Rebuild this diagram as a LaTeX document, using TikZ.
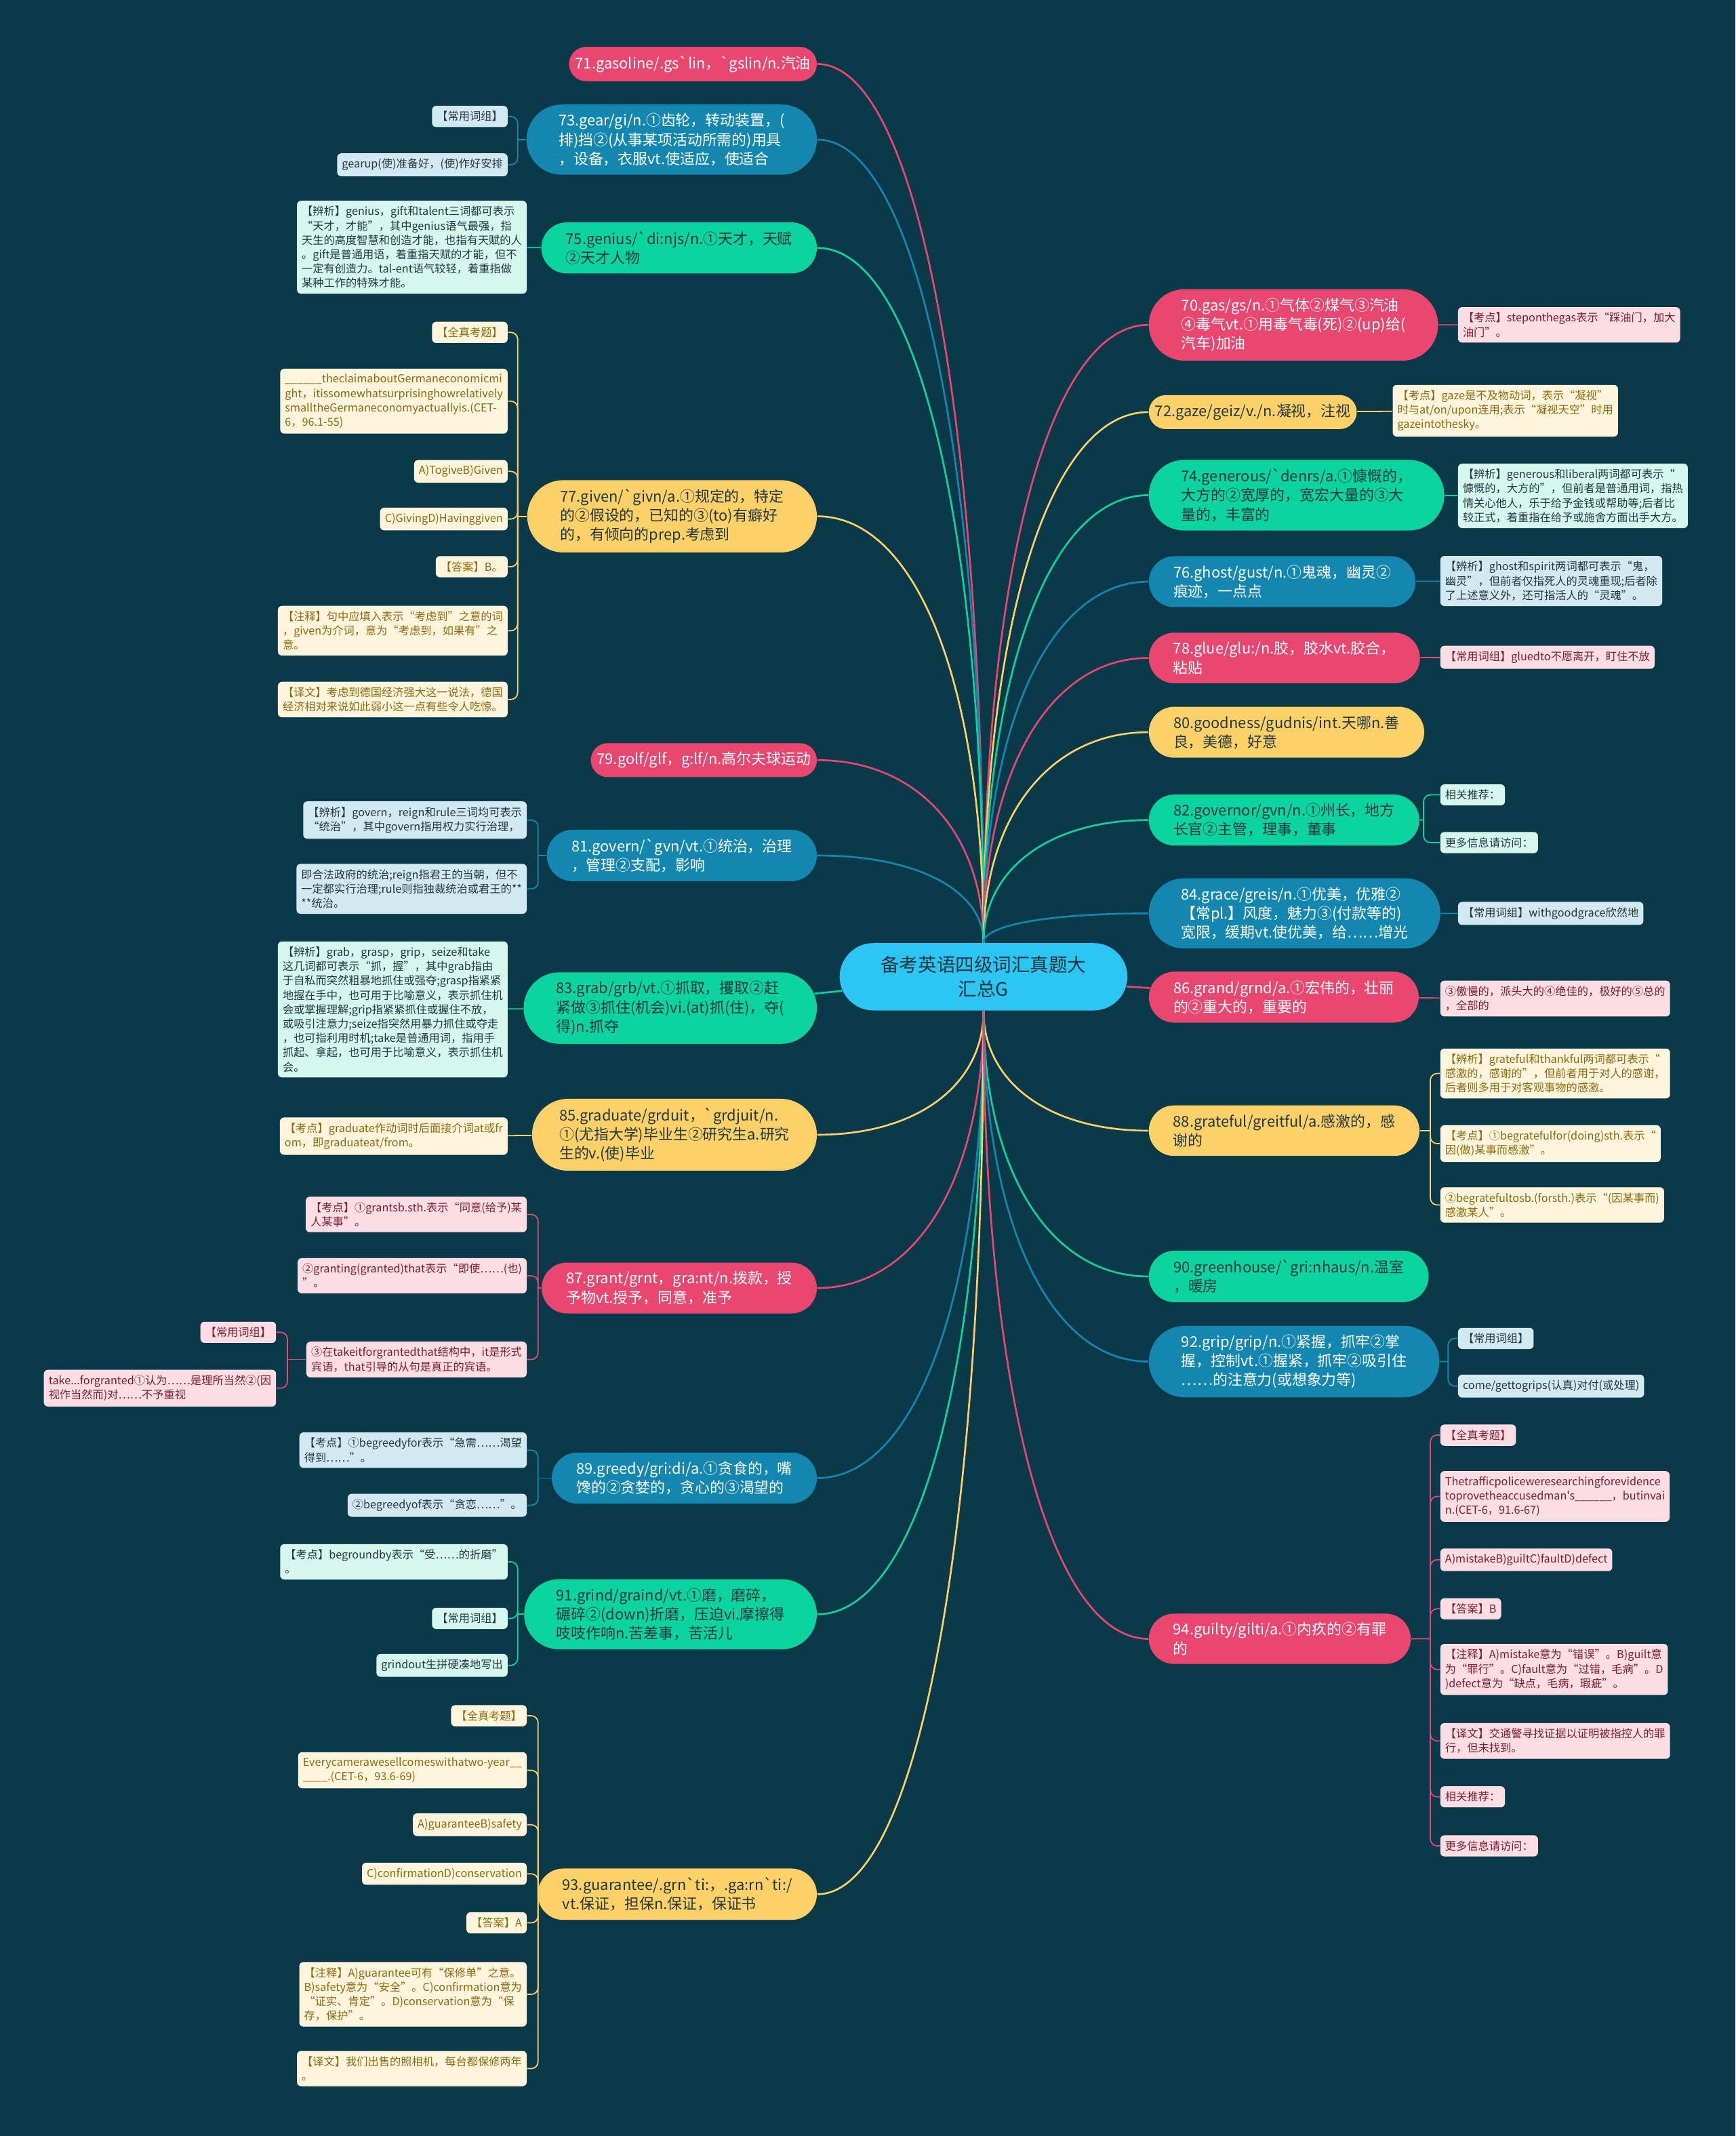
\documentclass[tikz,border=0pt]{standalone}
\usepackage{fontspec}
\setmainfont{Noto Sans CJK SC}[Ligatures=TeXOff]
\usetikzlibrary{shapes.misc,backgrounds,calc}

% colours of the map
\definecolor{bgc}{HTML}{0A3A4A}
\definecolor{ctrc}{HTML}{2CC5F4}
\definecolor{pk}{HTML}{E94670}
\definecolor{yw}{HTML}{FDD167}
\definecolor{gn}{HTML}{0BD49E}
\definecolor{bl}{HTML}{1487B0}
\definecolor{pkl}{HTML}{FBDDE3}
\definecolor{ywl}{HTML}{FFF5DC}
\definecolor{gnl}{HTML}{D6F7EE}
\definecolor{bll}{HTML}{D3E9F1}
\definecolor{pkt}{HTML}{7A1F33}
\definecolor{ywt}{HTML}{8C6A10}
\definecolor{dkt}{HTML}{22383F}

\newcommand{\blank}{\_\_\_\_\_\_}

\tikzset{
  root/.style={rounded rectangle, fill=ctrc, text=dkt, align=center, inner xsep=0.5cm, inner ysep=0.19cm, font=\fontsize{7.8}{10.2}\selectfont},
  topic/.style={rounded rectangle, inner xsep=0.06cm, inner ysep=0.13cm, align=left, font=\fontsize{6.2}{8}\selectfont},
  two/.style={inner xsep=0.27cm},
  three/.style={inner xsep=0.3cm},
  pinktopic/.style={topic, fill=pk, text=white},
  yellowtopic/.style={topic, fill=yw, text=dkt},
  greentopic/.style={topic, fill=gn, text=dkt},
  bluetopic/.style={topic, fill=bl, text=white},
  leaf/.style={rectangle, rounded corners=0.06cm, inner xsep=0.07cm, inner ysep=0.08cm, align=left, font=\fontsize{4.6}{6}\selectfont},
  pinkleaf/.style={leaf, fill=pkl, text=pkt},
  yellowleaf/.style={leaf, fill=ywl, text=ywt},
  greenleaf/.style={leaf, fill=gnl, text=dkt},
  blueleaf/.style={leaf, fill=bll, text=dkt},
  link/.style={draw=#1, line width=0.75pt},
  twig/.style={draw=#1, line width=0.5pt, rounded corners=0.1cm},
  fan/.style={to path={.. controls ($(\tikztostart)!0.6!(\tikztostart |- \tikztotarget)$) and ($(\tikztotarget)!0.6!(\tikztotarget -| \tikztostart)$) .. (\tikztotarget)}},
}

\begin{document}
\begin{tikzpicture}[x=0.02cm,y=0.02cm]
\begin{scope}[on background layer]
\fill[bgc] (0,0) rectangle (1274,-1568);
\end{scope}
\useasboundingbox (0,0) rectangle (1274,-1568);

% centre
\node[root] (ctr) at (722,-717) {备考英语四级词汇真题大\\汇总G};

% topics on the left
\node[pinktopic, anchor=east] (b71) at (600,-47) {71.gasoline/.gs`lin，`gslin/n.汽油};
\node[bluetopic, three, anchor=east] (b73) at (600,-102.5) {73.gear/gi/n.①齿轮，转动装置，(\\排)挡②(从事某项活动所需的)用具\\，设备，衣服vt.使适应，使适合};
\node[greentopic, two, anchor=east] (b75) at (600,-182) {75.genius/`di:njs/n.①天才，天赋\\②天才人物};
\node[yellowtopic, three, anchor=east] (b77) at (600,-379) {77.given/`givn/a.①规定的，特定\\的②假设的，已知的③(to)有癖好\\的，有倾向的prep.考虑到};
\node[pinktopic, anchor=east] (b79) at (600,-558) {79.golf/glf，g:lf/n.高尔夫球运动};
\node[bluetopic, two, anchor=east] (b81) at (600,-628) {81.govern/`gvn/vt.①统治，治理\\，管理②支配，影响};
\node[greentopic, three, anchor=east] (b83) at (600,-740) {83.grab/grb/vt.①抓取，攫取②赶\\紧做③抓住(机会)vi.(at)抓(住)，夺(\\得)n.抓夺};
\node[yellowtopic, three, anchor=east, inner xsep=0.22cm] (b85) at (600,-833) {85.graduate/grduit，`grdjuit/n.\\①(尤指大学)毕业生②研究生a.研究\\生的v.(使)毕业};
\node[pinktopic, two, anchor=east] (b87) at (600,-945.5) {87.grant/grnt，gra:nt/n.拨款，授\\予物vt.授予，同意，准予};
\node[bluetopic, two, anchor=east] (b89) at (600,-1085) {89.greedy/gri:di/a.①贪食的，嘴\\馋的②贪婪的，贪心的③渴望的};
\node[greentopic, three, anchor=east] (b91) at (600,-1185) {91.grind/graind/vt.①磨，磨碎，\\碾碎②(down)折磨，压迫vi.摩擦得\\吱吱作响n.苦差事，苦活儿};
\node[yellowtopic, two, anchor=east] (b93) at (600,-1390.5) {93.guarantee/.grn`ti:，.ga:rn`ti:/\\vt.保证，担保n.保证，保证书};

% topics on the right
\node[pinktopic, three, anchor=west] (b70) at (843,-238.5) {70.gas/gs/n.①气体②煤气③汽油\\④毒气vt.①用毒气毒(死)②(up)给(\\汽车)加油};
\node[yellowtopic, anchor=west] (b72) at (843,-302.5) {72.gaze/geiz/v./n.凝视，注视};
\node[greentopic, three, anchor=west] (b74) at (843,-363.5) {74.generous/`denrs/a.①慷慨的，\\大方的②宽厚的，宽宏大量的③大\\量的，丰富的};
\node[bluetopic, two, anchor=west] (b76) at (843,-427) {76.ghost/gust/n.①鬼魂，幽灵②\\痕迹，一点点};
\node[pinktopic, two, anchor=west] (b78) at (843,-483) {78.glue/glu:/n.胶，胶水vt.胶合，\\粘贴};
\node[yellowtopic, two, anchor=west] (b80) at (843,-537.5) {80.goodness/gudnis/int.天哪n.善\\良，美德，好意};
\node[greentopic, two, anchor=west] (b82) at (843,-602) {82.governor/gvn/n.①州长，地方\\长官②主管，理事，董事};
\node[bluetopic, three, anchor=west] (b84) at (843,-670.5) {84.grace/greis/n.①优美，优雅②\\【常pl.】风度，魅力③(付款等的)\\宽限，缓期vt.使优美，给……增光};
\node[pinktopic, two, anchor=west] (b86) at (843,-732) {86.grand/grnd/a.①宏伟的，壮丽\\的②重大的，重要的};
\node[yellowtopic, two, anchor=west] (b88) at (843,-830) {88.grateful/greitful/a.感激的，感\\谢的};
\node[greentopic, two, anchor=west] (b90) at (843,-937) {90.greenhouse/`gri:nhaus/n.温室\\，暖房};
\node[bluetopic, three, anchor=west] (b92) at (843,-999.5) {92.grip/grip/n.①紧握，抓牢②掌\\握，控制vt.①握紧，抓牢②吸引住\\……的注意力(或想象力等)};
\node[pinktopic, two, anchor=west] (b94) at (843,-1203) {94.guilty/gilti/a.①内疚的②有罪\\的};

% leaves on the left
\node[blueleaf, anchor=east] (l73a) at (373,-85.5) {【常用词组】};
\node[blueleaf, anchor=east] (l73b) at (373,-121) {gearup(使)准备好，(使)作好安排};
\node[greenleaf, anchor=east] (l75) at (387,-181.5) {【辨析】genius，gift和talent三词都可表示\\“天才，才能”，其中genius语气最强，指\\天生的高度智慧和创造才能，也指有天赋的人\\。gift是普通用语，着重指天赋的才能，但不\\一定有创造力。tal-ent语气较轻，着重指做\\某种工作的特殊才能。};
\node[yellowleaf, anchor=east] (l77a) at (373,-244) {【全真考题】};
\node[yellowleaf, anchor=east] (l77b) at (373,-294.5) {\blank theclaimaboutGermaneconomicmi\\ght，itissomewhatsurprisinghowrelatively\\smalltheGermaneconomyactuallyis.(CET-\\6，96.1-55)};
\node[yellowleaf, anchor=east] (l77c) at (373,-346) {A)TogiveB)Given};
\node[yellowleaf, anchor=east] (l77d) at (373,-381) {C)GivingD)Havinggiven};
\node[yellowleaf, anchor=east] (l77e) at (373,-416) {【答案】B。};
\node[yellowleaf, anchor=east] (l77f) at (373,-463) {【注释】句中应填入表示“考虑到”之意的词\\，given为介词，意为“考虑到，如果有”之\\意。};
\node[yellowleaf, anchor=east] (l77g) at (373,-513.5) {【译文】考虑到德国经济强大这一说法，德国\\经济相对来说如此弱小这一点有些令人吃惊。};
\node[blueleaf, anchor=east] (l81a) at (387,-602) {【辨析】govern，reign和rule三词均可表示\\“统治”，其中govern指用权力实行治理，};
\node[blueleaf, anchor=east] (l81b) at (387,-652.5) {即合法政府的统治;reign指君王的当朝，但不\\一定都实行治理;rule则指独裁统治或君王的**\\**统治。};
\node[greenleaf, anchor=east] (l83) at (373,-741) {【辨析】grab，grasp，grip，seize和take\\这几词都可表示“抓，握”，其中grab指由\\于自私而突然粗暴地抓住或强夺;grasp指紧紧\\地握在手中，也可用于比喻意义，表示抓住机\\会或掌握理解;grip指紧紧抓住或握住不放，\\或吸引注意力;seize指突然用暴力抓住或夺走\\，也可指利用时机;take是普通用词，指用手\\抓起、拿起，也可用于比喻意义，表示抓住机\\会。};
\node[yellowleaf, anchor=east] (l85) at (373,-834) {【考点】graduate作动词时后面接介词at或fr\\om，即graduateat/from。};
\node[pinkleaf, anchor=east] (l87a) at (387,-891.5) {【考点】①grantsb.sth.表示“同意(给予)某\\人某事”。};
\node[pinkleaf, anchor=east] (l87b) at (387,-936.5) {②granting(granted)that表示“即使……(也)\\”。};
\node[pinkleaf, anchor=east] (l87c) at (387,-998) {③在takeitforgrantedthat结构中，it是形式\\宾语，that引导的从句是真正的宾语。};
\node[pinkleaf, anchor=east] (l87d) at (203,-978) {【常用词组】};
\node[pinkleaf, anchor=east] (l87e) at (203,-1019) {take...forgranted①认为……是理所当然②(因\\视作当然而)对……不予重视};
\node[blueleaf, anchor=east] (l89a) at (387,-1064.5) {【考点】①begreedyfor表示“急需……渴望\\得到……”。};
\node[blueleaf, anchor=east] (l89b) at (387,-1105) {②begreedyof表示“贪恋……”。};
\node[greenleaf, anchor=east] (l91a) at (373,-1146.5) {【考点】begroundby表示“受……的折磨”\\。};
\node[greenleaf, anchor=east] (l91b) at (373,-1188) {【常用词组】};
\node[greenleaf, anchor=east] (l91c) at (373,-1222.5) {grindout生拼硬凑地写出};
\node[yellowleaf, anchor=east] (l93a) at (387,-1259.5) {【全真考题】};
\node[yellowleaf, anchor=east] (l93b) at (387,-1299.5) {Everycamerawesellcomeswithatwo-year\_\_\\\_\_\_\_.(CET-6，93.6-69)};
\node[yellowleaf, anchor=east] (l93c) at (387,-1339.5) {A)guaranteeB)safety};
\node[yellowleaf, anchor=east] (l93d) at (387,-1375.5) {C)confirmationD)conservation};
\node[yellowleaf, anchor=east] (l93e) at (387,-1411.5) {【答案】A};
\node[yellowleaf, anchor=east] (l93f) at (387,-1464) {【注释】A)guarantee可有“保修单”之意。\\B)safety意为“安全”。C)confirmation意为\\“证实、肯定”。D)conservation意为“保\\存，保护”。};
\node[yellowleaf, anchor=east] (l93g) at (387,-1518.5) {【译文】我们出售的照相机，每台都保修两年\\。};

% leaves on the right
\node[pinkleaf, anchor=west] (l70) at (1070,-238.5) {【考点】steponthegas表示“踩油门，加大\\油门”。};
\node[yellowleaf, anchor=west] (l72) at (1022,-301.5) {【考点】gaze是不及物动词，表示“凝视”\\时与at/on/upon连用;表示“凝视天空”时用\\gazeintothesky。};
\node[greenleaf, anchor=west] (l74) at (1070,-364) {【辨析】generous和liberal两词都可表示“\\慷慨的，大方的”，但前者是普通用词，指热\\情关心他人，乐于给予金钱或帮助等;后者比\\较正式，着重指在给予或施舍方面出手大方。};
\node[blueleaf, anchor=west] (l76) at (1057,-426.5) {【辨析】ghost和spirit两词都可表示“鬼，\\幽灵”，但前者仅指死人的灵魂重现;后者除\\了上述意义外，还可指活人的“灵魂”。};
\node[pinkleaf, anchor=west] (l78) at (1057,-482.5) {【常用词组】gluedto不愿离开，盯住不放};
\node[greenleaf, anchor=west] (l82a) at (1057,-583.5) {相关推荐：};
\node[greenleaf, anchor=west] (l82b) at (1057,-618.5) {更多信息请访问：};
\node[blueleaf, anchor=west] (l84) at (1070,-670.5) {【常用词组】withgoodgrace欣然地};
\node[pinkleaf, anchor=west] (l86) at (1057,-733) {③傲慢的，派头大的④绝佳的，极好的⑤总的\\，全部的};
\node[yellowleaf, anchor=west] (l88a) at (1057,-788) {【辨析】grateful和thankful两词都可表示“\\感激的，感谢的”，但前者用于对人的感谢，\\后者则多用于对客观事物的感激。};
\node[yellowleaf, anchor=west] (l88b) at (1057,-839.5) {【考点】①begratefulfor(doing)sth.表示“\\因(做)某事而感激”。};
\node[yellowleaf, anchor=west] (l88c) at (1057,-884.5) {②begratefultosb.(forsth.)表示“(因某事而)\\感激某人”。};
\node[blueleaf, anchor=west] (l92a) at (1070,-982.5) {【常用词组】};
\node[blueleaf, anchor=west] (l92b) at (1070,-1017.5) {come/gettogrips(认真)对付(或处理)};
\node[pinkleaf, anchor=west] (l94a) at (1057,-1053.5) {【全真考题】};
\node[pinkleaf, anchor=west] (l94b) at (1057,-1098.5) {Thetrafficpoliceweresearchingforevidence\\toprovetheaccusedman's\blank，butinvai\\n.(CET-6，91.6-67)};
\node[pinkleaf, anchor=west] (l94c) at (1057,-1145) {A)mistakeB)guiltC)faultD)defect};
\node[pinkleaf, anchor=west] (l94d) at (1057,-1181) {【答案】B};
\node[pinkleaf, anchor=west] (l94e) at (1057,-1225.5) {【注释】A)mistake意为“错误”。B)guilt意\\为“罪行”。C)fault意为“过错，毛病”。D\\)defect意为“缺点，毛病，瑕疵”。};
\node[pinkleaf, anchor=west] (l94f) at (1057,-1278) {【译文】交通警寻找证据以证明被指控人的罪\\行，但未找到。};
\node[pinkleaf, anchor=west] (l94g) at (1057,-1319) {相关推荐：};
\node[pinkleaf, anchor=west] (l94h) at (1057,-1355) {更多信息请访问：};

% joints where a topic splits to its leaves
\coordinate (j73) at (380,-102.5);
\coordinate (j77) at (380,-379);
\coordinate (j81) at (395,-628);
\coordinate (j87) at (395,-945.5);
\coordinate (j87c) at (211,-998);
\coordinate (j89) at (395,-1085);
\coordinate (j91) at (380,-1185);
\coordinate (j93) at (395,-1390.5);
\coordinate (j82) at (1045,-602);
\coordinate (j88) at (1050,-830);
\coordinate (j92) at (1063,-999.5);
\coordinate (j94) at (1050,-1203);

\begin{scope}[on background layer]
% centre to topics
\draw[link=pk] (ctr.north) to[fan] (b71.east);
\draw[link=bl] (ctr.north) to[fan] (b73.east);
\draw[link=gn] (ctr.north) to[fan] (b75.east);
\draw[link=yw] (ctr.north) to[fan] (b77.east);
\draw[link=pk] (ctr.north) to[fan] (b79.east);
\draw[link=bl] (ctr.north) to[fan] (b81.east);
\draw[link=gn] (ctr) -- (b83);
\draw[link=yw] (ctr.south) to[fan] (b85.east);
\draw[link=pk] (ctr.south) to[fan] (b87.east);
\draw[link=bl] (ctr.south) to[fan] (b89.east);
\draw[link=gn] (ctr.south) to[fan] (b91.east);
\draw[link=yw] (ctr.south) to[fan] (b93.east);
\draw[link=pk] (ctr.north) to[fan] (b70.west);
\draw[link=yw] (ctr.north) to[fan] (b72.west);
\draw[link=gn] (ctr.north) to[fan] (b74.west);
\draw[link=bl] (ctr.north) to[fan] (b76.west);
\draw[link=pk] (ctr.north) to[fan] (b78.west);
\draw[link=yw] (ctr.north) to[fan] (b80.west);
\draw[link=gn] (ctr.north) to[fan] (b82.west);
\draw[link=bl] (ctr.north) to[fan] (b84.west);
\draw[link=pk] (ctr) -- (b86);
\draw[link=yw] (ctr.south) to[fan] (b88.west);
\draw[link=gn] (ctr.south) to[fan] (b90.west);
\draw[link=bl] (ctr.south) to[fan] (b92.west);
\draw[link=pk] (ctr.south) to[fan] (b94.west);

% topics to leaves, left
\draw[twig=bl] (b73) -- (j73);
\draw[twig=bl] (j73) |- (l73a);
\draw[twig=bl] (j73) |- (l73b);
\draw[twig=gn] (b75) -- (l75);
\draw[twig=yw] (b77) -- (j77);
\draw[twig=yw] (j77) |- (l77a);
\draw[twig=yw] (j77) |- (l77b);
\draw[twig=yw] (j77) |- (l77c);
\draw[twig=yw] (j77) |- (l77d);
\draw[twig=yw] (j77) |- (l77e);
\draw[twig=yw] (j77) |- (l77f);
\draw[twig=yw] (j77) |- (l77g);
\draw[twig=bl] (b81) -- (j81);
\draw[twig=bl] (j81) |- (l81a);
\draw[twig=bl] (j81) |- (l81b);
\draw[twig=gn] (b83) -- (l83);
\draw[twig=yw] (b85) -- (l85);
\draw[twig=pk] (b87) -- (j87);
\draw[twig=pk] (j87) |- (l87a);
\draw[twig=pk] (j87) |- (l87b);
\draw[twig=pk] (j87) |- (l87c);
\draw[twig=pk] (l87c) -- (j87c);
\draw[twig=pk] (j87c) |- (l87d);
\draw[twig=pk] (j87c) |- (l87e);
\draw[twig=bl] (b89) -- (j89);
\draw[twig=bl] (j89) |- (l89a);
\draw[twig=bl] (j89) |- (l89b);
\draw[twig=gn] (b91) -- (j91);
\draw[twig=gn] (j91) |- (l91a);
\draw[twig=gn] (j91) |- (l91b);
\draw[twig=gn] (j91) |- (l91c);
\draw[twig=yw] (b93) -- (j93);
\draw[twig=yw] (j93) |- (l93a);
\draw[twig=yw] (j93) |- (l93b);
\draw[twig=yw] (j93) |- (l93c);
\draw[twig=yw] (j93) |- (l93d);
\draw[twig=yw] (j93) |- (l93e);
\draw[twig=yw] (j93) |- (l93f);
\draw[twig=yw] (j93) |- (l93g);

% topics to leaves, right
\draw[twig=pk] (b70) -- (l70);
\draw[twig=yw] (b72) -- (l72);
\draw[twig=gn] (b74) -- (l74);
\draw[twig=bl] (b76) -- (l76);
\draw[twig=pk] (b78) -- (l78);
\draw[twig=gn] (b82) -- (j82);
\draw[twig=gn] (j82) |- (l82a);
\draw[twig=gn] (j82) |- (l82b);
\draw[twig=bl] (b84) -- (l84);
\draw[twig=pk] (b86) -- (l86);
\draw[twig=yw] (b88) -- (j88);
\draw[twig=yw] (j88) |- (l88a);
\draw[twig=yw] (j88) |- (l88b);
\draw[twig=yw] (j88) |- (l88c);
\draw[twig=bl] (b92) -- (j92);
\draw[twig=bl] (j92) |- (l92a);
\draw[twig=bl] (j92) |- (l92b);
\draw[twig=pk] (b94) -- (j94);
\draw[twig=pk] (j94) |- (l94a);
\draw[twig=pk] (j94) |- (l94b);
\draw[twig=pk] (j94) |- (l94c);
\draw[twig=pk] (j94) |- (l94d);
\draw[twig=pk] (j94) |- (l94e);
\draw[twig=pk] (j94) |- (l94f);
\draw[twig=pk] (j94) |- (l94g);
\draw[twig=pk] (j94) |- (l94h);
\end{scope}
\end{tikzpicture}
\end{document}
